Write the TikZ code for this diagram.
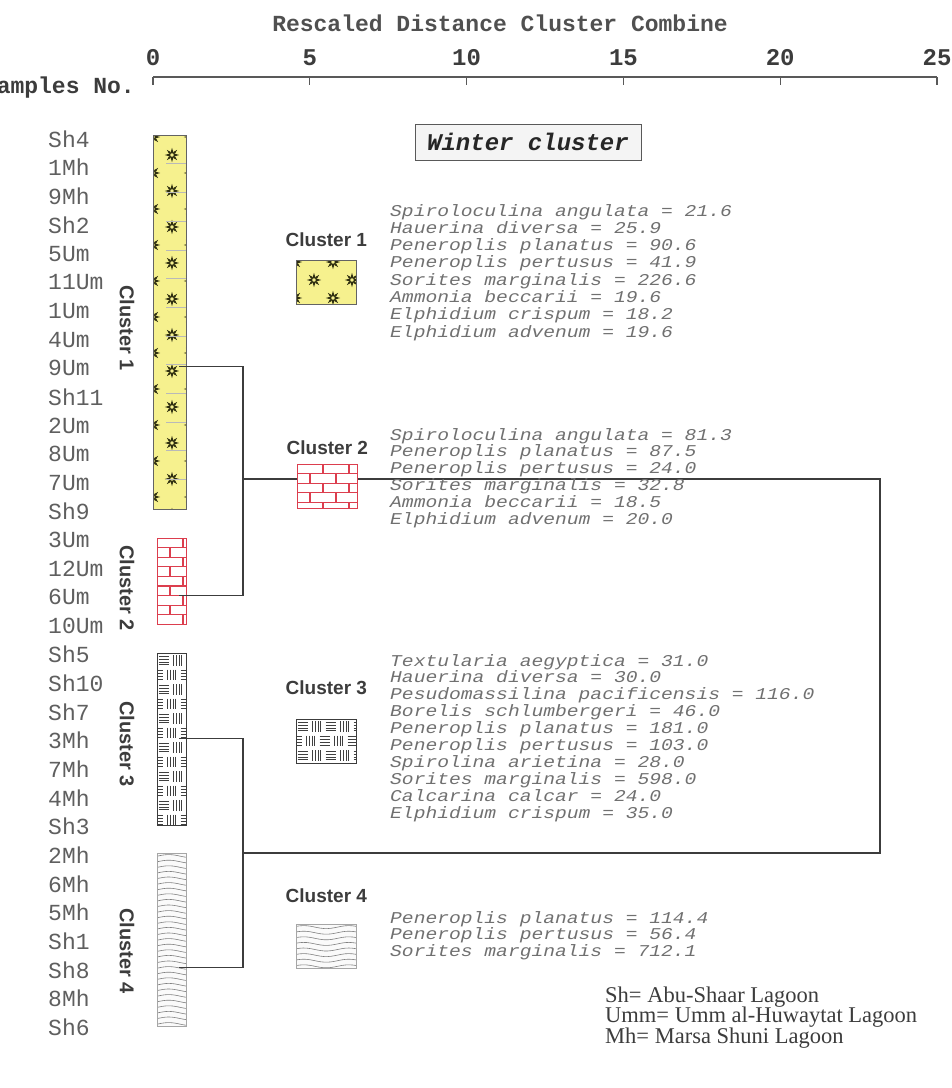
\documentclass[tikz,border=0pt]{standalone}
\usepackage{fontspec}
\setmainfont{Liberation Serif}
\setsansfont{Liberation Sans}
\setmonofont{Liberation Mono}
\newfontfamily\widemono[FakeStretch=1.19]{Liberation Mono}
\usetikzlibrary{calc,positioning}
\definecolor{dgInk}{RGB}{60,60,60}
\definecolor{dgText}{RGB}{95,95,95}
\definecolor{dgSpecies}{RGB}{112,112,112}
\definecolor{dgYellow}{RGB}{246,241,142}
\definecolor{dgSun}{RGB}{45,45,15}
\definecolor{dgBrick}{RGB}{220,62,78}
\definecolor{dgWave}{RGB}{128,128,128}
\def\figwidth{952}
\def\figheight{1088}

\tikzset{sun/.pic={
  \draw[dgSun,line width=1.4pt] (0,0) circle (2.6);
  \foreach \a in {0,45,...,315}
   \fill[dgSun] (\a:7.2) -- (\a+21:3.3) -- (\a-21:3.3) -- cycle;
}}

% sun texture: box x0 y0 x1 y1, lattice origin ox oy
\newcommand{\sunfill}[6]{%
 \begin{scope}
 \clip (#1,#2) rectangle (#3,#4);
 \fill[dgYellow] (#1,#2) rectangle (#3,#4);
 \pgfmathtruncatemacro{\jlo}{floor((#2-#6)/18)-1}
 \pgfmathtruncatemacro{\jhi}{ceil((#4-#6)/18)+1}
 \pgfmathtruncatemacro{\ilo}{floor((#1-#5)/38)-1}
 \pgfmathtruncatemacro{\ihi}{ceil((#3-#5)/38)+1}
 \foreach \jj in {\jlo,...,\jhi}{
  \foreach \ii in {\ilo,...,\ihi}{
   \pgfmathsetmacro{\sx}{#5+38*\ii+19*mod(abs(\jj),2)}
   \pgfmathsetmacro{\sy}{#6+18*\jj}
   \pic at (\sx,\sy) {sun};
  }}
 \end{scope}}

% brick texture
\newcommand{\brickfill}[4]{%
 \begin{scope}
 \clip (#1,#2) rectangle (#3,#4);
 \fill[white] (#1,#2) rectangle (#3,#4);
 \pgfmathtruncatemacro{\nrow}{ceil((#4-#2)/9.6)}
 \foreach \rr in {0,...,\nrow}{
  \pgfmathsetmacro{\ry}{#2+9.6*\rr}
  \pgfmathsetmacro{\off}{13*mod(\rr,2)}
  \draw[dgBrick,line width=1.2pt] (#1,\ry) -- (#3,\ry);
  \foreach \cc in {0,...,3}{
   \pgfmathsetmacro{\bx}{#1+\off+26*\cc}
   \draw[dgBrick,line width=1.2pt] (\bx,\ry) -- (\bx,\ry+9.6);
  }}
 \end{scope}}

% basket weave texture
\newcommand{\weavefill}[4]{%
 \begin{scope}
 \clip (#1,#2) rectangle (#3,#4);
 \fill[white] (#1,#2) rectangle (#3,#4);
 \pgfmathtruncatemacro{\nrow}{ceil((#4-#2)/14.5)-1}
 \foreach \rr in {0,...,\nrow}{
  \pgfmathsetmacro{\ry}{#2+14.5*\rr}
  \pgfmathsetmacro{\off}{-6*mod(\rr,2)}
  \foreach \cc in {0,1,2}{
   \pgfmathsetmacro{\cx}{#1+\off+28*\cc}
   \foreach \qq in {0,...,3}
    \draw[black!75,line width=.6pt] (\cx+1.5,\ry+3+2.9*\qq) -- (\cx+11.5,\ry+3+2.9*\qq);
   \foreach \qq in {0,...,3}
    \draw[black!75,line width=.6pt] (\cx+16+2.9*\qq,\ry+2) -- (\cx+16+2.9*\qq,\ry+12.5);
  }}
 \end{scope}}

% wavy line texture
\newcommand{\wavefill}[4]{%
 \begin{scope}
 \clip (#1,#2) rectangle (#3,#4);
 \fill[gray!4] (#1,#2) rectangle (#3,#4);
 \pgfmathtruncatemacro{\nrow}{ceil((#4-#2)/5.6)}
 \foreach \rr in {1,...,\nrow}{
  \pgfmathsetmacro{\wy}{#2+5.6*\rr-2.5}
  \draw[dgWave,line width=.6pt] plot[domain=#1:#3,samples=18,smooth] (\x,{\wy+1.5*sin(8*\x)});
 }
 \end{scope}}

\begin{document}
\begin{tikzpicture}[x=1pt,y=-1pt,
 dend/.style={draw=dgInk,line width=1.1pt},
 axisline/.style={draw=dgInk!85,line width=1.3pt},
 barbox/.style={draw=#1,line width=.8pt,inner sep=0pt,anchor=north west,minimum width=30,minimum height=44},
 barbox/.default=dgInk,
 smplabel/.style={anchor=west,inner sep=0pt,text=dgText,font=\ttfamily\fontsize{23}{23}\selectfont},
 numlabel/.style={inner sep=0pt,text=dgInk,font=\ttfamily\bfseries\fontsize{24}{24}\selectfont},
 vlabel/.style={rotate=-90,inner sep=0pt,text=dgInk,font=\sffamily\bfseries\fontsize{20}{20}\selectfont},
 clabel/.style={inner sep=0pt,text=dgInk,font=\sffamily\bfseries\fontsize{19}{19}\selectfont},
 sptext/.style={anchor=base west,inner sep=0pt,text=dgSpecies,font=\widemono\itshape\fontsize{16.5}{16.5}\selectfont}]
\path[use as bounding box] (0,0) rectangle (\figwidth,\figheight);

% axis
\node[numlabel,font=\ttfamily\bfseries\fontsize{23}{23}\selectfont,text=dgInk!90] (title) at (500,23) {Rescaled Distance Cluster Combine};
\coordinate (ax0) at (153,77);
\coordinate (ax25) at (937,77);
\draw[axisline] (ax0) -- (ax25);
\foreach \v [count=\k from 0] in {0,5,10,15,20,25}{
  \draw[axisline] (153+156.8*\k,77) -- ++(0,8);
  \node[numlabel] (n\k) at (153+156.8*\k,58) {\v};
}
\node[numlabel,anchor=east,font=\ttfamily\bfseries\fontsize{23}{23}\selectfont] (smphead) at (135,88) {Samples No.};

% sample labels
\foreach \smp [count=\i from 0] in {Sh4,1Mh,9Mh,Sh2,5Um,11Um,1Um,4Um,9Um,Sh11,2Um,8Um,7Um,Sh9,
  3Um,12Um,6Um,10Um,Sh5,Sh10,Sh7,3Mh,7Mh,4Mh,Sh3,2Mh,6Mh,5Mh,Sh1,Sh8,8Mh,Sh6}
  \node[smplabel] (s\i) at (48,{139+28.65*\i}) {\smp};

% cluster bars
\sunfill{153}{135}{186}{509}{172}{155}
\foreach \k in {1,...,12}
  \draw[gray!55,line width=.5pt] (166,135+28.7*\k) -- (186,135+28.7*\k);
\node[barbox=dgInk!80,minimum width=33,minimum height=374] (bar1) at (153,135) {};
\brickfill{157}{538}{186}{624}
\node[barbox=dgBrick,minimum width=29,minimum height=86] (bar2) at (157,538) {};
\weavefill{157}{653}{186}{825}
\node[barbox=dgInk,minimum width=29,minimum height=172] (bar3) at (157,653) {};
\wavefill{157}{853}{186}{1026}
\node[barbox=gray!70,minimum width=29,minimum height=173] (bar4) at (157,853) {};

\node[vlabel] (v1) at (127,328) {Cluster 1};
\node[vlabel] (v2) at (127,588) {Cluster 2};
\node[vlabel] (v3) at (127,744) {Cluster 3};
\node[vlabel] (v4) at (127,951) {Cluster 4};

% dendrogram
\coordinate (c9Um) at ($(bar1.east |- s8)+(-8,-2)$);
\coordinate (c6Um) at ($(bar2.east |- s16)+(-8,-2)$);
\coordinate (c3Mh) at ($(bar3.east |- s21)+(-8,-2)$);
\coordinate (cSh8) at ($(bar4.east |- s29)+(-8,-2)$);
\coordinate (k12) at (243,479);
\coordinate (k34) at (243,853);
\coordinate (kR12) at (880,479);
\coordinate (kR34) at (880,853);
\draw[dend] (c9Um) -| (k12) |- (c6Um);
\draw[dend] (c3Mh) -| (k34) |- (cSh8);
\draw[dend] (k12) -- (kR12) -- (kR34) -- (k34);

% legend boxes
\sunfill{296}{260}{356}{304}{314}{280}
\node[barbox=dgInk!80,minimum width=60] (lg1) at (296,260) {};
\brickfill{297}{464}{357}{508}
\node[barbox=dgBrick,minimum width=60] (lg2) at (297,464) {};
\weavefill{296}{719}{356}{763}
\node[barbox=dgInk,minimum width=60] (lg3) at (296,719) {};
\wavefill{296}{924}{356}{968}
\node[barbox=gray!70,minimum width=60] (lg4) at (296,924) {};
\node[clabel] (cl1) at ($(lg1.north)+(0,-20)$) {Cluster 1};
\node[clabel] (cl2) at ($(lg2.north)+(0,-16)$) {Cluster 2};
\node[clabel] (cl3) at ($(lg3.north)+(0,-31)$) {Cluster 3};
\node[clabel] (cl4) at ($(lg4.north)+(0,-28)$) {Cluster 4};

% species
\foreach \t [count=\i] in {Spiroloculina angulata = 21.6,Hauerina diversa = 25.9,
  Peneroplis planatus = 90.6,Peneroplis pertusus = 41.9,Sorites marginalis = 226.6,
  Ammonia beccarii = 19.6,Elphidium crispum = 18.2,Elphidium advenum = 19.6}
  \node[sptext] (sa\i) at (390,{216+17.3*(\i-1)}) {\t};
\foreach \t [count=\i] in {Spiroloculina angulata = 81.3,Peneroplis planatus = 87.5,
  Peneroplis pertusus = 24.0,Sorites marginalis = 32.8,Ammonia beccarii = 18.5,
  Elphidium advenum = 20.0}
  \node[sptext] (sb\i) at (390,{440+16.8*(\i-1)}) {\t};
\foreach \t [count=\i] in {Textularia aegyptica = 31.0,Hauerina diversa = 30.0,
  Pesudomassilina pacificensis = 116.0,Borelis schlumbergeri = 46.0,
  Peneroplis planatus = 181.0,Peneroplis pertusus = 103.0,Spirolina arietina = 28.0,
  Sorites marginalis = 598.0,Calcarina calcar = 24.0,Elphidium crispum = 35.0}
  \node[sptext] (sc\i) at (390,{666+16.9*(\i-1)}) {\t};
\foreach \t [count=\i] in {Peneroplis planatus = 114.4,Peneroplis pertusus = 56.4,
  Sorites marginalis = 712.1}
  \node[sptext] (sd\i) at (390,{923+16.6*(\i-1)}) {\t};

% season box
\node[draw=dgInk!85,fill=gray!9,line width=1pt,minimum width=226,minimum height=36,inner sep=0pt,
  text=black!85,font=\ttfamily\bfseries\itshape\fontsize{24}{24}\selectfont] (season) at (528,142) {Winter cluster};

% site key
\node[anchor=base west,inner sep=0pt,align=left,text=dgInk,font=\rmfamily\fontsize{22.5}{20.5}\selectfont] (key) at (605,1043)
  {Sh= Abu-Shaar Lagoon\\Umm= Umm al-Huwaytat Lagoon\\Mh= Marsa Shuni Lagoon};
\end{tikzpicture}
\end{document}
